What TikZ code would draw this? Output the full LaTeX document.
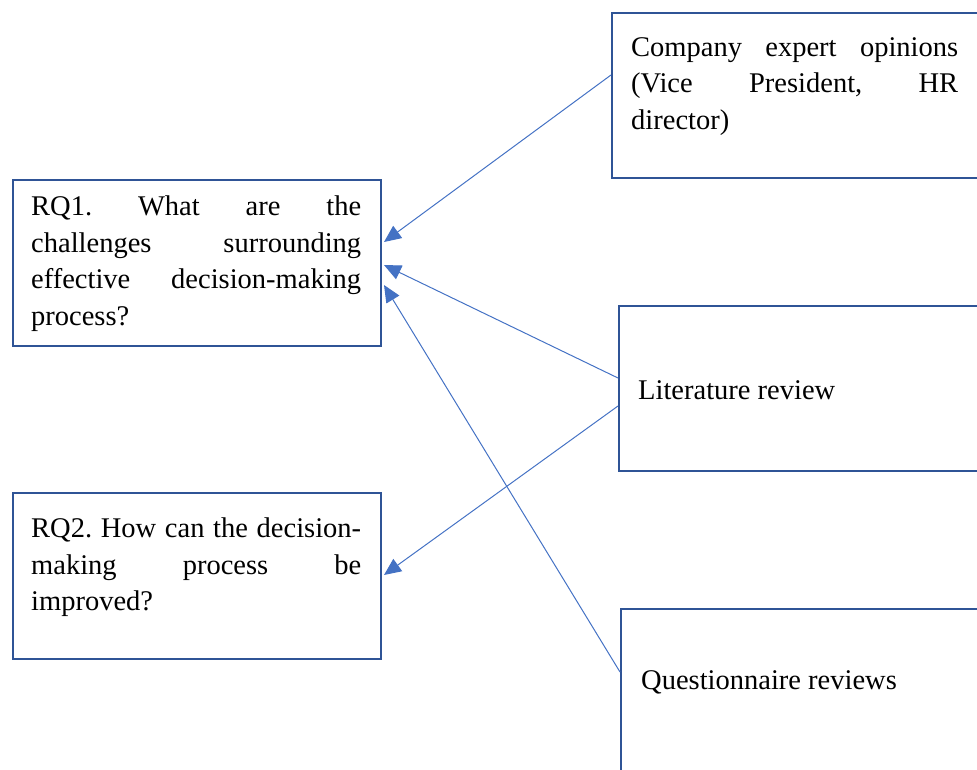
\documentclass[tikz,border=0pt]{standalone}
\usepackage{fontspec}
\setmainfont{Liberation Serif}
\usetikzlibrary{arrows.meta,calc}
\definecolor{boxblue}{RGB}{47,84,150}
\definecolor{linkblue}{RGB}{68,114,196}
\begin{document}
\frenchspacing
\begin{tikzpicture}[x=1pt,y=-1pt,
  box/.style={draw=boxblue,line width=2pt,rectangle,inner sep=0pt,anchor=north west},
  txt/.style={anchor=north west,inner sep=0pt,font=\fontsize{28.5}{36.5}\selectfont},
  jtxt/.style={txt,align=justify},
  link/.style={draw=linkblue,line width=1pt,-{Triangle[length=17pt,width=15pt]}}]
\useasboundingbox (0,0) rectangle (977,770);
\clip (0,0) rectangle (977,770);
% boxes
\node[box,minimum width=368pt,minimum height=166pt] (rq1) at (12,179) {};
\node[box,minimum width=368pt,minimum height=166pt] (rq2) at (12,492) {};
\node[box,minimum width=390pt,minimum height=165pt] (comp) at (611,12) {};
\node[box,minimum width=390pt,minimum height=165pt] (lit) at (618,305) {};
\node[box,minimum width=390pt,minimum height=190pt] (quest) at (620,608) {};
% texts
\node[jtxt,text width=330pt] (rq1t) at (31,196)
  {\hyphenpenalty=10000 RQ1. What are the\linebreak challenges surrounding\linebreak effective decision-making\linebreak process?};
\node[jtxt,text width=330pt] (rq2t) at (31,518)
  {\hyphenpenalty=10000 RQ2. How can the decision-\linebreak making process be\linebreak improved?};
\node[jtxt,text width=327pt] (compt) at (631,37)
  {\hyphenpenalty=10000 Company expert opinions\linebreak (Vice President, HR\linebreak director)};
\node[txt] (litt) at (638,380) {Literature review};
\node[txt] (questt) at (641,670) {Questionnaire reviews};
% connectors
\draw[link] ($(comp.north west)+(0,63)$) -- ($(rq1.north east)+(2,63)$);
\draw[link] ($(lit.north west)+(0,73)$) -- ($(rq1.north east)+(2,86)$);
\draw[link] ($(lit.north west)+(0,101)$) -- ($(rq2.north east)+(2,83)$);
\draw[link] ($(quest.north west)+(0,64)$) -- ($(rq1.north east)+(2,106)$);
\end{tikzpicture}
\end{document}
